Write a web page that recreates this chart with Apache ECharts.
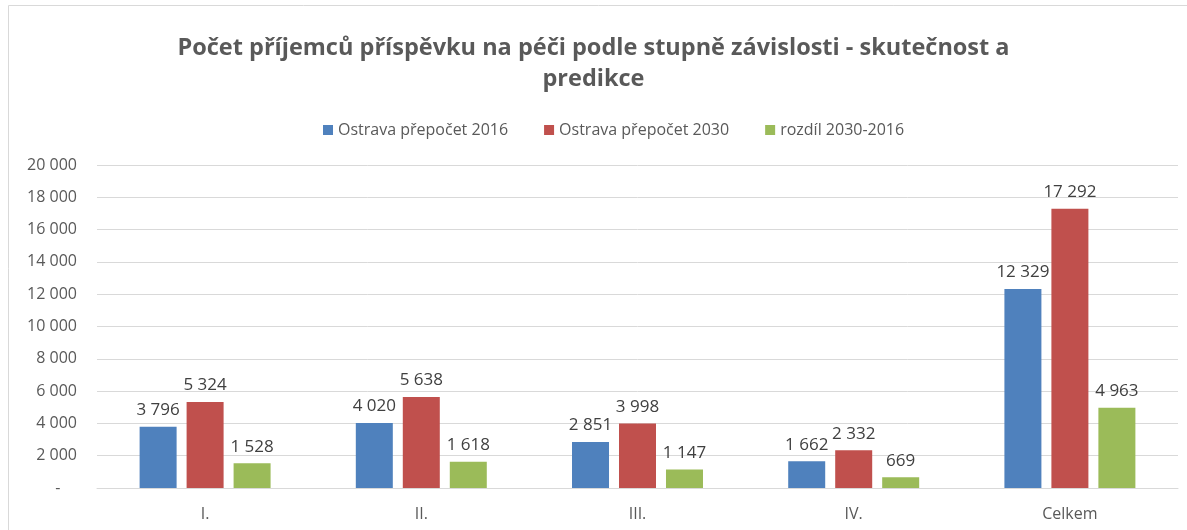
<!DOCTYPE html>
<html>
<head>
<meta charset="utf-8">
<script src="https://cdn.jsdelivr.net/npm/echarts@6/dist/echarts.min.js"></script>
<style>
  html, body { margin: 0; padding: 0; background: #fff; }
  #chart { width: 1187px; height: 530px; }
</style>
</head>
<body>
<div id="chart"></div>
<script>
// categories and values
const categories = ['I.', 'II.', 'III.', 'IV.', 'Celkem']
const ostrava2016 = [3796, 4020, 2851, 1662, 12329]
const ostrava2030 = [5324, 5638, 3998, 2332, 17292]
const rozdil = [1528, 1618, 1147, 669, 4963]
const seriesNames = ['Ostrava přepočet 2016', 'Ostrava přepočet 2030', 'rozdíl 2030-2016']

const fontFamily = '"Open Sans", sans-serif'
const textColor = '#595959'

function fmt(v) {
  return String(v).replace(/\B(?=(\d{3})+(?!\d))/g, ' ')
}

const chart = echarts.init(document.getElementById('chart'))

function makeSeries(name, data, color) {
  return {
    name: name,
    type: 'bar',
    data: data,
    barWidth: 37,
    barGap: '27%',
    itemStyle: { color: color },
    label: {
      show: true,
      position: 'top',
      distance: 8,
      color: '#404040',
      fontSize: 17,
      fontFamily: fontFamily,
      formatter: p => fmt(p.value)
    }
  }
}

chart.setOption({
  animation: false,
  textStyle: { fontFamily: fontFamily },
  graphic: [{
    type: 'rect',
    shape: { x: 8.5, y: 5.5, width: 1200, height: 540 },
    style: { fill: 'none', stroke: '#d9d9d9', lineWidth: 1 }
  }],
  title: {
    text: 'Počet příjemců příspěvku na péči podle stupně závislosti - skutečnost a\npredikce',
    left: 'center',
    top: 28,
    padding: [5, 5, 5, 31],
    textStyle: {
      fontSize: 23.5,
      fontWeight: 'bold',
      color: textColor,
      lineHeight: 31,
      fontFamily: fontFamily
    }
  },
  legend: {
    top: 117,
    left: 318,
    itemWidth: 10,
    itemHeight: 10,
    itemGap: 36,
    icon: 'rect',
    textStyle: { fontSize: 16, color: textColor, fontFamily: fontFamily }
  },
  grid: {
    left: 97,
    right: 9,
    top: 165,
    bottom: 42
  },
  xAxis: {
    type: 'category',
    data: categories,
    axisTick: { show: false },
    axisLine: { lineStyle: { color: '#d9d9d9', width: 1 } },
    axisLabel: { color: textColor, fontSize: 16, margin: 18, fontFamily: fontFamily }
  },
  yAxis: {
    type: 'value',
    min: 0,
    max: 20000,
    interval: 2000,
    axisLine: { show: false },
    axisTick: { show: false },
    splitLine: { lineStyle: { color: '#d9d9d9', width: 1 } },
    axisLabel: {
      color: textColor,
      fontSize: 16,
      margin: 20,
      fontFamily: fontFamily,
      formatter: v => v === 0 ? '-    ' : fmt(v)
    }
  },
  series: [
    makeSeries(seriesNames[0], ostrava2016, '#4f81bd'),
    makeSeries(seriesNames[1], ostrava2030, '#c0504d'),
    makeSeries(seriesNames[2], rozdil, '#9bbb59')
  ]
})
</script>
</body>
</html>
